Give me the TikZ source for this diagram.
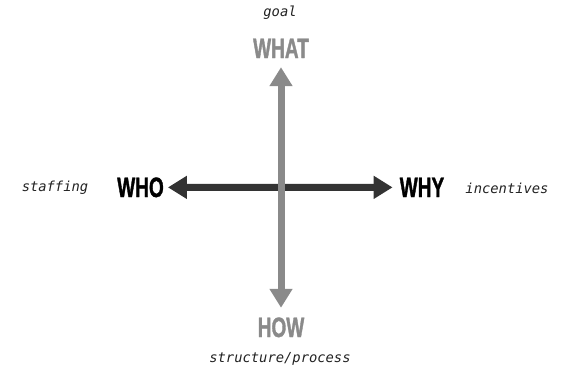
\documentclass[tikz,border=0pt]{standalone}
\usepackage{fontspec}
\usetikzlibrary{arrows.meta}
\newfontfamily\condfont{Liberation Sans}[FakeStretch=0.68,FakeBold=1.2]
\newfontfamily\monolabel{DejaVu Sans Mono}
\definecolor{lightgrayc}{HTML}{8A8A8A}
\definecolor{darkc}{HTML}{333333}
\definecolor{labelc}{HTML}{222222}
\begin{document}
\begin{tikzpicture}[x=1pt,y=-1pt,
  keyword/.style={inner sep=0pt, anchor=base, font=\condfont\bfseries\fontsize{28}{28}\selectfont},
  sidelabel/.style={inner sep=0pt, text=labelc, font=\monolabel\itshape\fontsize{13.8}{14}\selectfont},
  axisarrow/.style={line width=7pt, {Triangle[length=19pt,width=22pt]}-{Triangle[length=19pt,width=22pt]}}
]
\useasboundingbox (0,0) rectangle (561,373);
\node[keyword, text=lightgrayc] (what) at (281,58) {WHAT};
\node[keyword, text=lightgrayc] (how) at (281,337) {HOW};
\node[keyword, text=black] (who) at (140.5,197) {WHO};
\node[keyword, text=black] (why) at (422,197) {WHY};
\node[sidelabel] (goal) at (280,13) {goal};
\node[sidelabel] (struct) at (280,359) {structure/process};
\node[sidelabel] (staff) at (55,188) {staffing};
\node[sidelabel] (incent) at (507,188) {incentives};
\draw[axisarrow, darkc, shorten <=4pt, shorten >=7pt] (who.east) -- (why.west);
\draw[axisarrow, lightgrayc, shorten <=9pt, shorten >=9.5pt] (what.south) -- (how.north);
\end{tikzpicture}
\end{document}
